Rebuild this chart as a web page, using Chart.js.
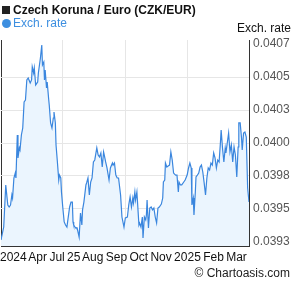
<!DOCTYPE html>
<html>
<head>
<meta charset="utf-8">
<script src="https://cdn.jsdelivr.net/npm/chart.js@4.4.0/dist/chart.umd.min.js"></script>
<style>
  body { margin: 0; background: #fff; }
  #wrap { position: relative; width: 295px; height: 288px; font-family: "Liberation Sans", Arial, sans-serif; }
  #wrap canvas { position: absolute; left: 0; top: 0; }
  .txt { position: absolute; white-space: nowrap; font-size: 12px; }
  #title { left: 2px; top: 3px; font-weight: bold; color: #111; }
  #title span { display: inline-block; width: 8px; height: 8px; background: #222; margin-right: 3px; }
  #legend { left: 2px; top: 16px; color: #3d8fe0; }
  #legend span { display: inline-block; width: 9px; height: 9px; border-radius: 50%; background: #3d8fe0; margin-right: 2px; vertical-align: -1px; }
  #ytitle { right: 4px; top: 21px; color: #111; }
  #xrow { left: 0; top: 250px; color: #111; word-spacing: -1px; }
  #credit { right: 5px; top: 266px; color: #222; }
</style>
</head>
<body>
<div id="wrap">
  <canvas id="chart" width="295" height="288"></canvas>
  <div class="txt" id="title"><span></span>Czech Koruna / Euro (CZK/EUR)</div>
  <div class="txt" id="legend"><span></span>Exch. rate</div>
  <div class="txt" id="ytitle">Exch. rate</div>
  <div class="txt" id="xrow"></div>
  <div class="txt" id="credit">© Chartoasis.com</div>
</div>
<script>
// day offsets from the start of the period (about one year)
const days = [0, 4, 7, 10, 12, 14, 16, 17, 19, 21, 22, 24, 25, 27, 28, 30, 32, 34, 36, 38,
  40, 43, 45, 46, 48, 49, 51, 54, 55, 58, 60, 61, 63, 64, 65, 67, 68, 70, 71, 73,
  75, 77, 78, 80, 81, 83, 85, 86, 88, 89, 91, 93, 95, 97, 101, 103, 105, 106, 107, 109,
  110, 112, 115, 117, 119, 120, 122, 125, 126, 128, 130, 132, 134, 136, 138, 141, 143, 145, 147, 149,
  151, 152, 154, 156, 159, 161, 164, 165, 167, 169, 171, 173, 176, 178, 181, 183, 186, 188, 190, 192,
  194, 195, 197, 198, 200, 203, 204, 206, 208, 209, 211, 213, 214, 215, 217, 219, 221, 223, 225, 227,
  229, 231, 233, 235, 236, 238, 239, 241, 242, 244, 246, 248, 250, 252, 254, 257, 259, 261, 262, 264,
  266, 269, 271, 274, 276, 278, 280, 281, 283, 284, 286, 287, 289, 291, 293, 295, 297, 299, 301, 303,
  305, 307, 309, 311, 313, 315, 317, 319, 321, 323, 324, 326, 328, 330, 331, 333, 335, 337, 339, 341,
  343, 345, 347, 349, 350, 352, 354, 355, 357, 359, 361, 363, 365];

// CZK/EUR exchange rate
const rates = [0.039280, 0.039377, 0.039692, 0.039542, 0.039527, 0.039542, 0.039617, 0.039594, 0.039744, 0.039781,
  0.039744, 0.040066, 0.039894, 0.039969, 0.039954, 0.040066, 0.040118, 0.040313, 0.040328, 0.040478,
  0.040493, 0.040455, 0.040478, 0.040575, 0.040530, 0.040567, 0.040440, 0.040463, 0.040530, 0.040642,
  0.040740, 0.040590, 0.040612, 0.040478, 0.040552, 0.040418, 0.040463, 0.040343, 0.040290, 0.040156,
  0.040118, 0.040193, 0.040238, 0.040156, 0.039991, 0.039864, 0.039729, 0.039766, 0.039744, 0.039639,
  0.039519, 0.039415, 0.039392, 0.039377, 0.039527, 0.039564, 0.039564, 0.039415, 0.039392, 0.039377,
  0.039370, 0.039370, 0.039302, 0.039482, 0.039392, 0.039505, 0.039564, 0.039692, 0.039707, 0.039744,
  0.039617, 0.039714, 0.039744, 0.039864, 0.039879, 0.039969, 0.039916, 0.039901, 0.039931, 0.039826,
  0.039939, 0.039916, 0.039864, 0.039819, 0.039729, 0.039819, 0.039856, 0.039841, 0.039856, 0.039766,
  0.039744, 0.039744, 0.039617, 0.039452, 0.039377, 0.039445, 0.039452, 0.039542, 0.039602, 0.039527,
  0.039594, 0.039557, 0.039639, 0.039579, 0.039639, 0.039392, 0.039407, 0.039377, 0.039452, 0.039295,
  0.039452, 0.039430, 0.039467, 0.039579, 0.039370, 0.039519, 0.039527, 0.039505, 0.039519, 0.039452,
  0.039407, 0.039519, 0.039527, 0.039542, 0.039549, 0.039594, 0.039714, 0.039729, 0.039856, 0.039826,
  0.039834, 0.039841, 0.039939, 0.039879, 0.039781, 0.039766, 0.039766, 0.039639, 0.039714, 0.039692,
  0.039692, 0.039714, 0.039729, 0.039766, 0.039819, 0.039856, 0.039819, 0.039542, 0.039594, 0.039467,
  0.039639, 0.039752, 0.039766, 0.039781, 0.039826, 0.039841, 0.039789, 0.039707, 0.039617, 0.039744,
  0.039819, 0.039804, 0.039856, 0.039841, 0.039931, 0.039894, 0.039819, 0.039879, 0.039864, 0.040014,
  0.040103, 0.039969, 0.039864, 0.039969, 0.039931, 0.040006, 0.040081, 0.039939, 0.039991, 0.039864,
  0.039976, 0.039916, 0.039752, 0.039976, 0.040156, 0.040156, 0.040043, 0.039954, 0.040081, 0.040088,
  0.040051, 0.039669, 0.039564];

const xLabels = ["2024", "Apr", "Jul 25", "Aug", "Sep", "Oct", "Nov", "2025", "Feb", "Mar"];
const xGridDays = [0, 91, 183, 274, 365];
const yTickValues = [0.039265, 0.039512, 0.039759, 0.040006, 0.040253, 0.0405, 0.040747];
const yTickLabels = ["0.0393", "0.0395", "0.0398", "0.0400", "0.0403", "0.0405", "0.0407"];

document.getElementById("xrow").textContent = xLabels.join(" ");

let points = days.map((d, i) => ({ x: d, y: rates[i] }));
let ctx = document.getElementById("chart").getContext("2d");

new Chart(ctx, {
  type: "line",
  data: {
    datasets: [
      {
        label: "Exch. rate",
        data: points,
        borderColor: "#3a86de",
        backgroundColor: "#ebf5fe",
        borderWidth: 1.2,
        pointRadius: 0,
        tension: 0,
        fill: "start",
      },
    ],
  },
  options: {
    responsive: false,
    animation: false,
    layout: { padding: { top: 40, left: 1, bottom: 42, right: 0 } },
    plugins: { legend: { display: false }, title: { display: false }, tooltip: { enabled: false } },
    scales: {
      x: {
        type: "linear",
        min: 0,
        max: 365,
        afterBuildTicks: (s) => { s.ticks = xGridDays.map((v) => ({ value: v })); },
        afterFit: (s) => { s.height = 0; },
        ticks: { display: false },
        grid: {
          drawTicks: false,
          color: (c) => (c.tick && c.tick.value === 0 ? "#333" : "#e6e6e6"),
          lineWidth: 1,
        },
        border: { display: true, color: "#333", width: 1 },
      },
      y: {
        position: "right",
        min: 0.039235,
        max: 0.040777,
        afterBuildTicks: (s) => { s.ticks = yTickValues.map((v) => ({ value: v })); },
        afterFit: (s) => { s.width = 46; },
        ticks: {
          color: "#555",
          padding: 4,
          font: { family: "Liberation Sans", size: 12 },
          callback: (v, i) => yTickLabels[i],
        },
        grid: {
          drawTicks: false,
          color: (c) => (c.index === 0 || c.index === yTickValues.length - 1 ? "rgba(0,0,0,0)" : "#e6e6e6"),
        },
        border: { display: true, color: "#333", width: 1 },
      },
    },
  },
});
</script>
</body>
</html>
